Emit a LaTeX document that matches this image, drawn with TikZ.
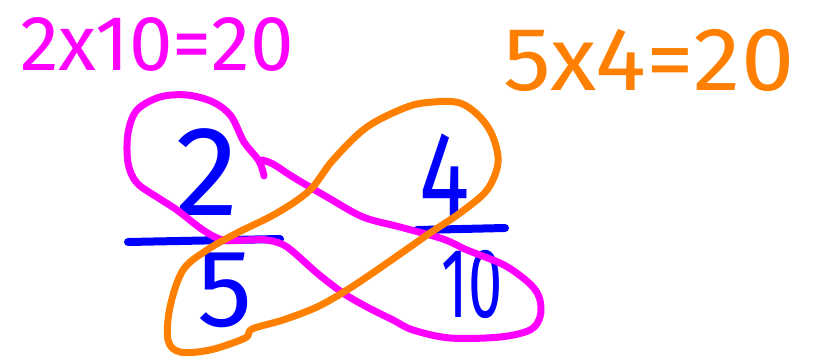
\documentclass[tikz,border=0pt]{standalone}
\usepackage{fontspec}
\setmainfont{Fira Sans}
\definecolor{hmag}{RGB}{255,0,255}
\definecolor{horange}{RGB}{255,128,0}
\definecolor{hblue}{RGB}{0,0,255}
\begin{document}
\begin{tikzpicture}[x=1pt,y=-1pt,
  txt/.style={inner sep=0pt},
  numtxt/.style={inner sep=0pt,text=hblue},
  bar/.style={hblue,line width=8pt,line cap=round},
  loop/.style={line width=7pt,line cap=round,line join=round}]
\useasboundingbox (0,0) rectangle (817,360);
% blue fractions
\node[numtxt,font=\fontsize{128}{140}\selectfont] (n2) at (207,172) {2};
\node[numtxt,font=\fontsize{110}{120}\selectfont] (n5) at (225,290) {5};
\node[numtxt,font=\fontsize{126}{140}\selectfont,xscale=0.75] (n4) at (445,177) {4};
\node[numtxt,font=\fontsize{99}{110}\selectfont,xscale=0.62] (n10) at (472,284) {10};
\coordinate (b1a) at (128,242); \coordinate (b1b) at (280,239);
\coordinate (b2a) at (417,230); \coordinate (b2b) at (505,228);
\draw[bar] (b1a) -- (b1b);
\draw[bar] (b2a) -- (b2b);
% magenta loop
\draw[loop,hmag] plot[smooth,tension=0.55] coordinates {
 (264,176) (259,161) (244,142) (231,116) (213,102) (187,95) (160,97) (137,110)
 (128,133) (128,163) (137,183) (160,199) (177,210) (203,230) (223,240) (248,240)
 (267,240) (287,247) (317,273) (343,293) (367,307) (393,320) (413,330) (450,338)
 (500,337) (530,330) (540,317) (540,300) (533,287) (518,274) (500,263) (467,250)
 (443,239) (400,227) (363,217) (327,197) (293,177) (273,164) (262,160)};
% orange loop
\draw[loop,horange] plot[smooth cycle,tension=0.55] coordinates {
 (252,329) (283,320) (317,307) (347,290) (377,270) (410,247) (430,233) (460,213)
 (487,190) (498,163) (493,137) (480,117) (460,103) (433,102) (407,107) (367,127)
 (333,160) (310,190) (277,213) (237,233) (207,250) (183,270) (170,307) (168,340)
 (180,352) (210,350) (245,338)};
% equations
\node[txt,text=hmag,font=\fontsize{78}{90}\selectfont] (eqa) at (157,44) {2x10=20};
\node[txt,text=horange,font=\fontsize{90}{100}\selectfont,xscale=1.06] (eqb) at (649,60) {5x4=20};
\end{tikzpicture}
\end{document}
